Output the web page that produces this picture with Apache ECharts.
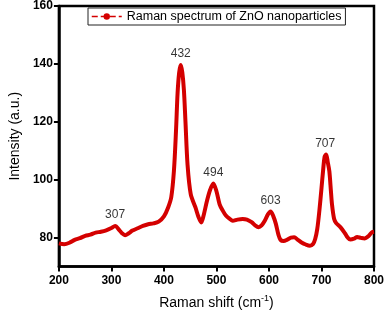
<!DOCTYPE html>
<html>
<head>
<meta charset="utf-8">
<script src="https://cdn.jsdelivr.net/npm/echarts@6/dist/echarts.min.js"></script>
<style>
  html, body { margin: 0; padding: 0; background: #fff; }
  #chart { width: 387px; height: 315px; }
</style>
</head>
<body>
<div id="chart"></div>
<script>
// Raman shift (cm-1) and intensity
var shift = [200, 210, 220, 230, 240, 250, 260, 270, 280, 290, 300, 307, 315, 320, 326, 333, 340, 350, 360, 370,
  380, 390, 400, 408, 414, 419, 423, 426, 429, 432, 435, 438, 441, 445, 451, 460, 466, 471, 476, 482,
  488, 494, 500, 506, 512, 518, 525, 531, 540, 550, 558, 567, 575, 580, 586, 592, 598, 603, 608, 613,
  618, 622, 628, 635, 642, 648, 655, 662, 670, 678, 684, 688, 692, 696, 700, 703, 706, 709, 712, 715,
  718, 720, 724, 728, 736, 745, 750, 755, 762, 768, 775, 782, 788, 792, 796, 800];
var intensity = [78.0, 77.7, 78.2, 79.2, 79.8, 80.6, 81.0, 81.7, 82.0, 82.5, 83.3, 84.0, 82.6, 81.5, 80.8, 81.5, 82.4, 83.2, 84.0, 84.6,
  84.9, 85.5, 87.3, 90.4, 94.0, 103, 117, 130, 137, 139.6, 137, 131, 120, 105, 95, 90.4, 87, 85.2, 88, 92.7,
  96.5, 98.7, 96, 91.5, 89.3, 87.6, 86.5, 85.8, 86.2, 86.4, 86.2, 85.3, 84.0, 83.6, 84.2, 85.8, 88.0, 89.0, 87.5, 84.8,
  81.0, 79.2, 78.8, 79.3, 80.0, 80.1, 79.2, 78.3, 77.6, 77.2, 77.8, 79.5, 83, 89.3, 97, 103, 108, 108.7, 106, 102.9,
  96, 91.5, 86.5, 85.0, 83.6, 81.4, 80, 79.3, 79.6, 80.2, 79.9, 79.7, 80.3, 81, 81.8, 82];

// labelled peaks
var peakX = [307, 432, 494, 603, 707];
var peakY = [84.0, 139.6, 98.7, 89.0, 108.7];

var yTicks = [80, 100, 120, 140, 160];

var points = [];
for (var i = 0; i < shift.length; i++) {
  points.push([shift[i], intensity[i]]);
}
var peaks = [];
for (var j = 0; j < peakX.length; j++) {
  peaks.push([peakX[j], peakY[j]]);
}

var chart = echarts.init(document.getElementById('chart'), null, {renderer: 'canvas'});
chart.setOption({
  animation: false,
  textStyle: {fontFamily: 'Arial, Liberation Sans, sans-serif'},
  grid: {
    left: 50, right: 11, top: 5, bottom: 45,
    show: true, borderColor: '#000', borderWidth: 2.5
  },
  legend: {
    left: 88, top: 8,
    padding: [2, 4, 2, 3],
    borderColor: '#222', borderWidth: 1,
    itemWidth: 30, itemHeight: 8, itemGap: 4,
    data: [{name: 'Raman spectrum of ZnO nanoparticles', lineStyle: {type: 'dashed', width: 1.5}}],
    textStyle: {fontSize: 12.5, color: '#000', fontFamily: 'Arial, Liberation Sans, sans-serif'}
  },
  xAxis: {
    type: 'value',
    min: 200, max: 800, interval: 100,
    name: 'Raman shift (cm{sup|-1})',
    nameLocation: 'middle',
    nameGap: 28,
    nameTextStyle: {
      fontSize: 14, color: '#000',
      rich: {sup: {fontSize: 9, verticalAlign: 'top', padding: [0, 0, 8, 0], color: '#000'}}
    },
    axisLine: {lineStyle: {color: '#000', width: 2.5}},
    axisTick: {inside: false, length: 5, lineStyle: {color: '#000', width: 2}},
    axisLabel: {color: '#000', fontSize: 12, fontWeight: 'bold', margin: 8},
    splitLine: {show: false}
  },
  yAxis: {
    type: 'value',
    min: 70, max: 160,
    name: 'Intensity (a.u.)',
    nameLocation: 'middle',
    nameGap: 33,
    nameTextStyle: {fontSize: 14, color: '#000'},
    axisLine: {lineStyle: {color: '#000', width: 2.5}},
    axisTick: {inside: false, length: 5, lineStyle: {color: '#000', width: 2}, customValues: yTicks},
    axisLabel: {color: '#000', fontSize: 12, fontWeight: 'bold', margin: 6, customValues: yTicks},
    splitLine: {show: false}
  },
  series: [
    {
      name: 'Raman spectrum of ZnO nanoparticles',
      type: 'line',
      data: points,
      smooth: 0.3,
      symbol: 'circle',
      symbolSize: 5,
      showSymbol: false,
      itemStyle: {color: '#D40000'},
      lineStyle: {color: '#D40000', width: 4}
    },
    {
      name: 'peaks',
      type: 'scatter',
      data: peaks,
      symbolSize: 0,
      silent: true,
      label: {
        show: true,
        position: 'top',
        distance: 5,
        color: '#000',
        fontSize: 12,
        formatter: function (p) { return p.value[0]; }
      }
    }
  ]
});
</script>
</body>
</html>
